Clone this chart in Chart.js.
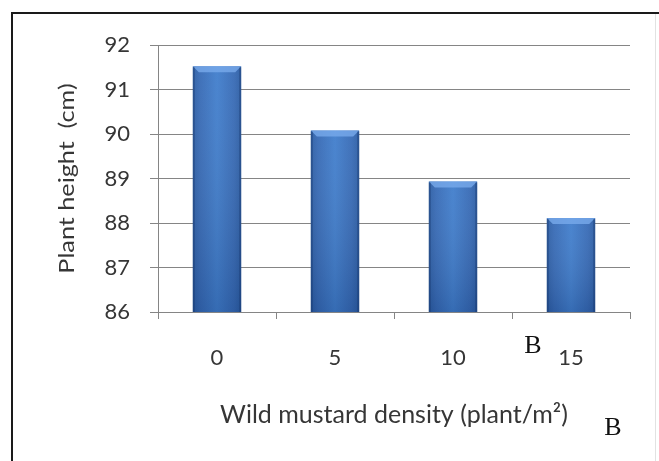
<!DOCTYPE html>
<html>
<head>
<meta charset="utf-8">
<script src="https://cdn.jsdelivr.net/npm/chart.js@4.4.1/dist/chart.umd.min.js"></script>
<style>
  html, body { margin: 0; padding: 0; background: #fff; }
  #wrap { position: relative; width: 659px; height: 461px; }
</style>
</head>
<body>
<div id="wrap"><canvas id="chart" width="659" height="461"></canvas></div>
<script>
// Daten
const densities = ["0", "5", "10", "15"];
const plantHeights = [91.52, 90.08, 88.93, 88.11];
const yTicks = [86, 87, 88, 89, 90, 91, 92];

const textColor = "#363636";
const gridColor = "#858585";
const fontFamily = "Lato, 'Open Sans', sans-serif";

// Rahmen und weisser Hintergrund
const framePlugin = {
  id: "frame",
  beforeDraw(chart) {
    const c = chart.ctx;
    c.save();
    c.fillStyle = "#fff";
    c.fillRect(0, 0, chart.width, chart.height);
    c.strokeStyle = "#e2e2e2";
    c.lineWidth = 1;
    c.beginPath();
    c.moveTo(655.5, 14);
    c.lineTo(655.5, chart.height);
    c.stroke();
    c.strokeStyle = "#1a1a1a";
    c.lineWidth = 2;
    c.beginPath();
    c.moveTo(12, chart.height);
    c.lineTo(12, 13);
    c.lineTo(chart.width, 13);
    c.stroke();
    c.restore();
  }
};

// Y-Achsentitel im Original etwas laenger gezogen -> in Laufrichtung strecken
const stretchTitlePlugin = {
  id: "stretchTitle",
  afterLayout(chart) {
    const s = chart.scales.y;
    if (!s || s._stretched) return;
    const orig = s.drawTitle;
    s.drawTitle = function (...args) {
      const c = this.ctx;
      const cy = (this.top + this.bottom) / 2;
      c.save();
      c.translate(0, cy);
      c.scale(1, 1.2);
      c.translate(0, -cy);
      orig.apply(this, args);
      c.restore();
    };
    s._stretched = true;
  }
};

// Balken mit Verlauf und Abschraegung oben
const barStylePlugin = {
  id: "barStyle",
  beforeDatasetsDraw(chart) {
    const c = chart.ctx;
    chart.getDatasetMeta(0).data.forEach(bar => {
      const l = bar.x - bar.width / 2;
      const r = bar.x + bar.width / 2;
      const g = c.createLinearGradient(l, 0, r, 0);
      g.addColorStop(0, "#2a5ca3");
      g.addColorStop(0.15, "#3569b5");
      g.addColorStop(0.5, "#3f7dcc");
      g.addColorStop(0.85, "#3569b5");
      g.addColorStop(1, "#2a5ca3");
      // eigene Options pro Balken, sonst teilen sich alle dasselbe Objekt
      bar.options = Object.assign({}, bar.options, { backgroundColor: g });
    });
  },
  afterDatasetsDraw(chart) {
    const c = chart.ctx;
    const area = chart.chartArea;
    c.save();
    chart.getDatasetMeta(0).data.forEach(bar => {
      const l = bar.x - bar.width / 2;
      const r = bar.x + bar.width / 2;
      const t = bar.y;
      const b = Math.min(bar.base, area.bottom);
      const d = 6;
      // nach unten etwas dunkler
      const v = c.createLinearGradient(0, t, 0, b);
      v.addColorStop(0, "rgba(255,255,255,0.06)");
      v.addColorStop(1, "rgba(10,30,70,0.18)");
      c.fillStyle = v;
      c.fillRect(l, t, r - l, b - t);
      // Oberkante heller
      c.fillStyle = "rgba(120,170,235,0.8)";
      c.beginPath();
      c.moveTo(l, t);
      c.lineTo(r, t);
      c.lineTo(r - d, t + d);
      c.lineTo(l + d, t + d);
      c.closePath();
      c.fill();
      // Seiten dunkler
      c.fillStyle = "rgba(20,50,100,0.35)";
      c.fillRect(l, t + 1, 2, b - t - 1);
      c.fillRect(r - 2, t + 1, 2, b - t - 1);
    });
    c.restore();
  }
};

// Die beiden "B" Beschriftungen
const letterPlugin = {
  id: "letters",
  afterDraw(chart) {
    const c = chart.ctx;
    c.save();
    c.fillStyle = "#111";
    c.font = "26px 'Liberation Serif', 'DejaVu Serif', serif";
    c.textAlign = "center";
    c.textBaseline = "middle";
    c.fillText("B", 533, 346);
    c.fillText("B", 613, 428);
    c.restore();
  }
};

// eslint-disable-next-line no-undef
new Chart(document.getElementById("chart"), {
  type: "bar",
  data: {
    labels: densities,
    datasets: [{
      data: plantHeights,
      backgroundColor: "#3a75c4",
      borderWidth: 0,
      barPercentage: 0.82,
      categoryPercentage: 0.5
    }]
  },
  options: {
    responsive: false,
    animation: false,
    layout: { padding: { left: 55, right: 29, top: 45, bottom: 0 } },
    plugins: {
      legend: { display: false },
      tooltip: { enabled: false }
    },
    scales: {
      x: {
        offset: true,
        grid: {
          drawOnChartArea: false,
          drawTicks: true,
          tickLength: 7,
          color: gridColor,
          offset: true
        },
        border: { color: gridColor, width: 1 },
        ticks: {
          color: textColor,
          padding: 26,
          font: { family: fontFamily, size: 22 }
        },
        title: {
          display: true,
          text: "Wild mustard density (plant/m²)",
          color: textColor,
          font: { family: fontFamily, size: 25 },
          padding: { top: 4, bottom: 31 }
        },
        afterFit(scale) { scale.height = 149; }
      },
      y: {
        min: 86,
        max: 92,
        afterBuildTicks(scale) { scale.ticks = yTicks.map(v => ({ value: v })); },
        grid: {
          color: gridColor,
          lineWidth: 1,
          tickLength: 8
        },
        border: { color: gridColor, width: 1 },
        ticks: {
          color: textColor,
          padding: 20,
          font: { family: fontFamily, size: 22 }
        },
        title: {
          display: true,
          text: "Plant height  (cm)",
          color: textColor,
          font: { family: fontFamily, size: 21 },
          padding: { top: 0, bottom: 0 }
        },
        afterFit(scale) { scale.width = 158 - 55; }
      }
    }
  },
  plugins: [framePlugin, stretchTitlePlugin, barStylePlugin, letterPlugin]
});
</script>
</body>
</html>
